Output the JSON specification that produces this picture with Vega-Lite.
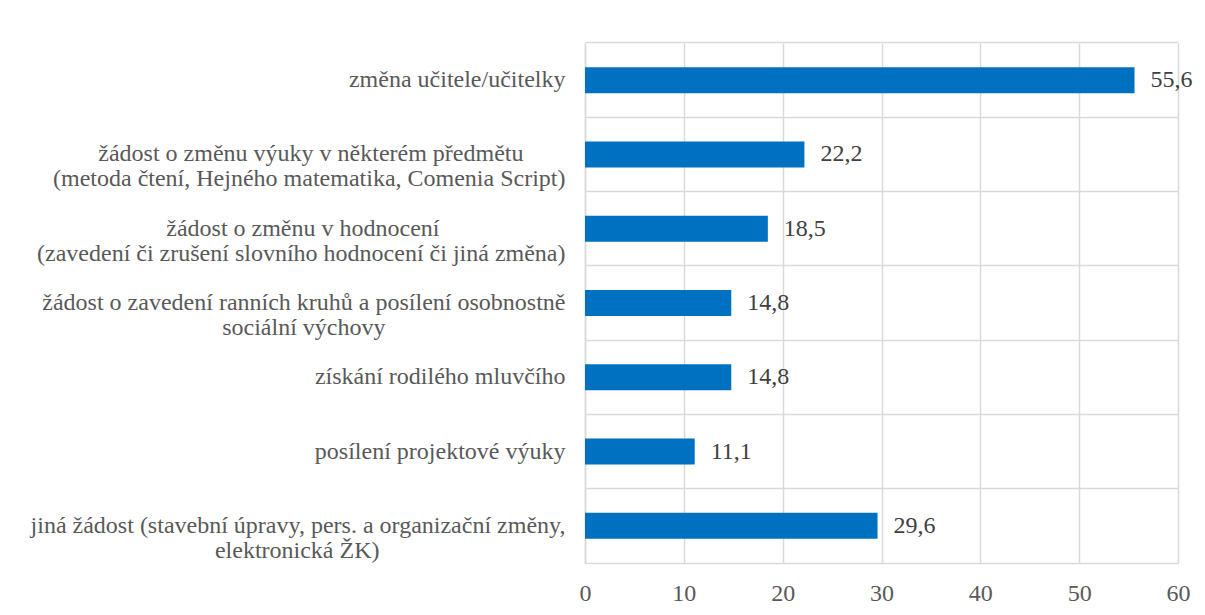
{
  "$schema": "https://vega.github.io/schema/vega-lite/v6.json",
  "autosize": "none",
  "width": 593,
  "height": 520,
  "padding": {"left": 585, "top": 43, "right": 27, "bottom": 52},
  "background": "white",
  "config": {
    "view": {"stroke": null},
    "font": "Liberation Serif"
  },
  "data": {
    "values": [
      {"kategorie": "změna učitele/učitelky", "hodnota": 55.6, "popisek": "55,6"},
      {"kategorie": "žádost o změnu výuky v některém předmětu\u00a0\u00a0\u00a0\u00a0\u00a0\u00a0\u00a0\u2060|(metoda čtení, Hejného matematika, Comenia Script)", "hodnota": 22.2, "popisek": "22,2"},
      {"kategorie": "žádost o změnu v hodnocení\u00a0\u00a0\u00a0\u00a0\u00a0\u00a0\u00a0\u00a0\u00a0\u00a0\u00a0\u00a0\u00a0\u00a0\u00a0\u00a0\u00a0\u00a0\u00a0\u00a0\u00a0\u2060|(zavedení či zrušení slovního hodnocení či jiná změna)", "hodnota": 18.5, "popisek": "18,5"},
      {"kategorie": "žádost o zavedení ranních kruhů a posílení osobnostně|sociální výchovy\u00a0\u00a0\u00a0\u00a0\u00a0\u00a0\u00a0\u00a0\u00a0\u00a0\u00a0\u00a0\u00a0\u00a0\u00a0\u00a0\u00a0\u00a0\u00a0\u00a0\u00a0\u00a0\u00a0\u00a0\u00a0\u00a0\u00a0\u00a0\u00a0\u00a0\u2060", "hodnota": 14.8, "popisek": "14,8"},
      {"kategorie": "získání rodilého mluvčího", "hodnota": 14.8, "popisek": "14,8"},
      {"kategorie": "posílení projektové výuky", "hodnota": 11.1, "popisek": "11,1"},
      {"kategorie": "jiná žádost (stavební úpravy, pers. a organizační změny,|elektronická ŽK)\u00a0\u00a0\u00a0\u00a0\u00a0\u00a0\u00a0\u00a0\u00a0\u00a0\u00a0\u00a0\u00a0\u00a0\u00a0\u00a0\u00a0\u00a0\u00a0\u00a0\u00a0\u00a0\u00a0\u00a0\u00a0\u00a0\u00a0\u00a0\u00a0\u00a0\u00a0\u2060", "hodnota": 29.6, "popisek": "29,6"}
    ]
  },
  "encoding": {
    "y": {
      "field": "kategorie",
      "type": "nominal",
      "sort": null,
      "scale": {"paddingInner": 0.65, "paddingOuter": 0.325},
      "axis": {
        "title": null,
        "ticks": false,
        "labelFont": "Liberation Serif",
        "labelFontSize": 24,
        "labelColor": "#595959",
        "labelLineHeight": 25,
        "labelLimit": 0,
        "labelPadding": 20,
        "labelExpr": "split(datum.label, '|')",
        "bandPosition": -0.9286,
        "domainColor": "#d9d9d9",
        "domainWidth": 1.5,
        "grid": true,
        "gridColor": "#d9d9d9",
        "gridWidth": 1.5
      }
    },
    "x": {
      "field": "hodnota",
      "type": "quantitative",
      "scale": {"domain": [0, 60]},
      "axis": {
        "title": null,
        "ticks": false,
        "values": [0, 10, 20, 30, 40, 50, 60],
        "labelFont": "Liberation Serif",
        "labelFontSize": 24,
        "labelColor": "#595959",
        "labelPadding": 18,
        "labelFlush": false,
        "grid": true,
        "gridColor": "#d9d9d9",
        "gridWidth": 1.5,
        "domainColor": "#d9d9d9",
        "domainWidth": 1.5
      }
    }
  },
  "layer": [
    {"mark": {"type": "bar", "color": "#0070C0"}},
    {
      "mark": {"type": "text", "align": "left", "dx": 16, "font": "Liberation Serif", "fontSize": 24, "color": "#404040"},
      "encoding": {"text": {"field": "popisek", "type": "nominal"}}
    }
  ]
}
